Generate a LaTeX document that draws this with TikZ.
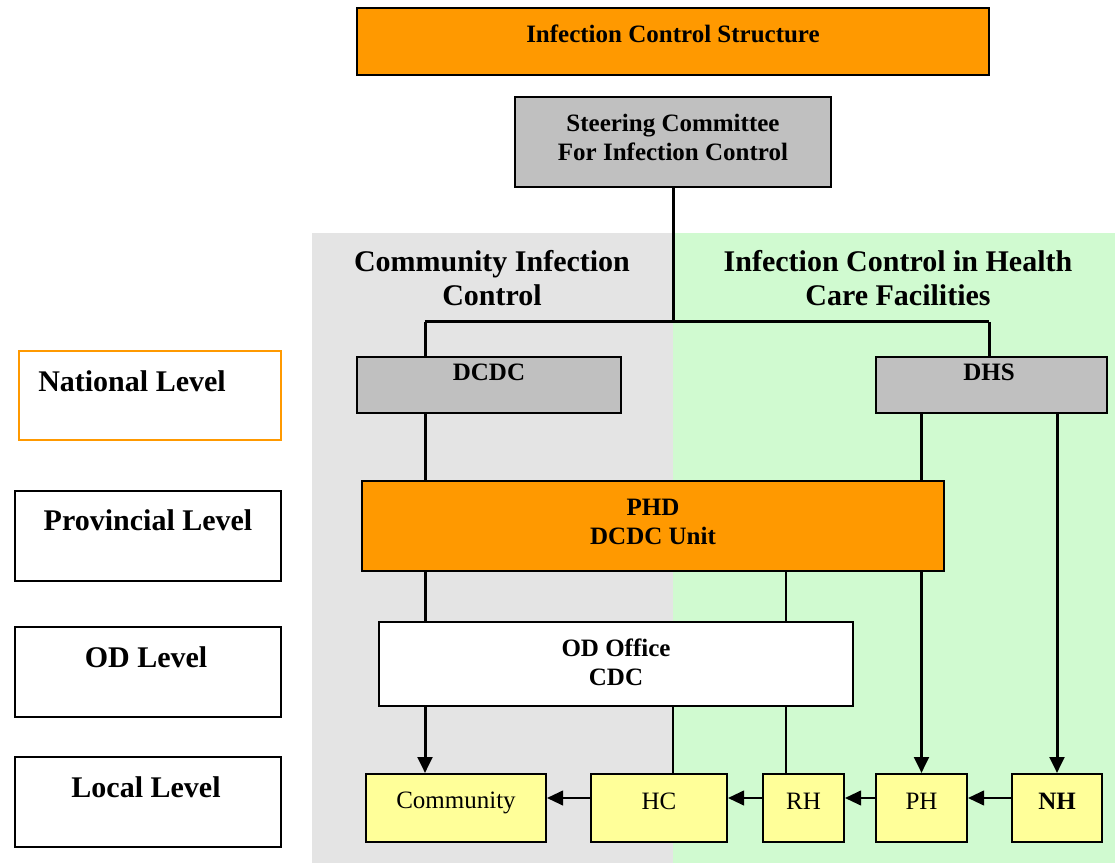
\documentclass[tikz,border=0pt]{standalone}
\usepackage{fontspec}
\setmainfont{Liberation Serif}
\usepackage{tikz}
\usetikzlibrary{arrows.meta}

\definecolor{icOrange}{RGB}{255,153,0}
\definecolor{icGray}{RGB}{192,192,192}
\definecolor{icYellow}{RGB}{255,255,153}
\definecolor{icShade}{RGB}{228,228,228}
\definecolor{icGreen}{RGB}{208,250,208}
\newcommand{\pxl}{0.75pt}

\begin{document}
\begin{tikzpicture}[x=0.75pt, y=-0.75pt,
        box/.style = {draw, line width=1.5pt, inner sep=0pt},
        txt/.style = {font=\fontsize{18.75}{21.75}\selectfont\bfseries,
            align=center, inner sep=0pt},
        head/.style = {font=\fontsize{22.5}{25.5}\selectfont\bfseries,
            align=center, inner sep=0pt},
        plain/.style = {font=\fontsize{18.75}{21.75}\selectfont, inner sep=0pt},
        link/.style = {line width=2.25pt},
        thinlink/.style = {line width=1.3pt},
        arr/.style = {-{Triangle[length=12pt,width=11pt]}}]

        \useasboundingbox (0,0) rectangle (1115,863);

        % Shaded columns
        \fill[icShade] (312,233) rectangle (673,863);
        \fill[icGreen] (673,233) rectangle (1115,863);

        % Title
        \node[box, fill=icOrange, minimum width=632*\pxl, minimum height=67*\pxl] (title) at (673,41.5) {};
        \node[txt] (title-lbl) at (673,34) {Infection Control Structure};

        % Steering committee
        \node[box, fill=icGray, minimum width=316*\pxl, minimum height=90*\pxl] (steer) at (673,142) {};
        \node[txt] (steer-lbl) at (673,137.5) {Steering Committee\\For Infection Control};

        % Column headings
        \node[head] (comm-head) at (492,278) {Community Infection\\Control};
        \node[head] (fac-head) at (898,278) {Infection Control in Health\\Care Facilities};

        % Levels
        \node[box, draw=icOrange, minimum width=262*\pxl, minimum height=89*\pxl] (national) at (150,395.5) {};
        \node[head] (national-lbl) at (132,381) {National Level};
        \node[box, minimum width=266*\pxl, minimum height=90*\pxl] (provincial) at (148,536) {};
        \node[head] (provincial-lbl) at (148,520) {Provincial Level};
        \node[box, minimum width=266*\pxl, minimum height=90*\pxl] (odlevel) at (148,672) {};
        \node[head] (odlevel-lbl) at (146,657) {OD Level};
        \node[box, minimum width=266*\pxl, minimum height=90*\pxl] (local) at (148,802) {};
        \node[head] (local-lbl) at (146,787) {Local Level};

        % National bodies
        \node[box, fill=icGray, minimum width=264*\pxl, minimum height=56*\pxl] (dcdc) at (489,385) {};
        \node[txt] (dcdc-lbl) at (489,372) {DCDC};
        \node[box, fill=icGray, minimum width=231*\pxl, minimum height=56*\pxl] (dhs) at (991.5,385) {};
        \node[txt] (dhs-lbl) at (989,372) {DHS};

        % Provincial and OD offices
        \node[box, fill=icOrange, minimum width=582*\pxl, minimum height=90*\pxl] (phd) at (653,526) {};
        \node[txt] (phd-lbl) at (653,521.5) {PHD\\DCDC Unit};
        \node[box, fill=white, minimum width=474*\pxl, minimum height=84*\pxl] (odoff) at (616,664) {};
        \node[txt] (odoff-lbl) at (616,662.5) {OD Office\\CDC};

        % Local units
        \node[box, fill=icYellow, minimum width=180*\pxl, minimum height=68*\pxl] (comm) at (456,808) {};
        \node[plain] (comm-lbl) at (456,803) {Community};
        \node[box, fill=icYellow, minimum width=136*\pxl, minimum height=68*\pxl] (hc) at (659,808) {};
        \node[plain] (hc-lbl) at (659,801) {HC};
        \node[box, fill=icYellow, minimum width=81*\pxl, minimum height=68*\pxl] (rh) at (803.5,808) {};
        \node[plain] (rh-lbl) at (803.5,801) {RH};
        \node[box, fill=icYellow, minimum width=91*\pxl, minimum height=68*\pxl] (ph) at (921.5,808) {};
        \node[plain] (ph-lbl) at (921.5,801) {PH};
        \node[box, fill=icYellow, minimum width=90*\pxl, minimum height=68*\pxl] (nh) at (1057,808) {};
        \node[txt] (nh-lbl) at (1057,801) {NH};

        % Branching below the committee
        \coordinate (split) at (673,322);
        \coordinate (cl) at (425,322);
        \coordinate (cr) at (989,322);
        \coordinate (cm) at (786,322);
        \coordinate (cp) at (921.5,322);
        \draw[link] (steer.south) -- (split);
        \draw[link] (cl) -- (cr);
        \draw[link] (cl) -- (cl |- dcdc.north);
        \draw[link] (cr) -- (cr |- dhs.north);

        % Community side
        \draw[link] (cl |- dcdc.south) -- (cl |- phd.north);
        \draw[link] (cl |- phd.south) -- (cl |- odoff.north);
        \draw[link, arr] (cl |- odoff.south) -- (cl |- comm.north);
        \draw[thinlink] (cm |- phd.south) -- (cm |- odoff.north);
        \draw[thinlink] (cm |- odoff.south) -- (cm |- rh.north);
        \draw[thinlink] (split |- odoff.south) -- (split |- hc.north);

        % Health facility side
        \draw[link] (cp |- dhs.south) -- (cp |- phd.north);
        \draw[link, arr] (cp |- phd.south) -- (cp |- ph.north);
        \draw[link, arr] (nh.north |- dhs.south) -- (nh.north);

        % Referral chain
        \draw[line width=1.5pt, arr] ([yshift=7.5pt]nh.west) -- ([yshift=7.5pt]ph.east);
        \draw[line width=1.5pt, arr] ([yshift=7.5pt]ph.west) -- ([yshift=7.5pt]rh.east);
        \draw[line width=1.5pt, arr] ([yshift=7.5pt]rh.west) -- ([yshift=7.5pt]hc.east);
        \draw[line width=1.5pt, arr] ([yshift=7.5pt]hc.west) -- ([yshift=7.5pt]comm.east);

    \end{tikzpicture}
\end{document}
